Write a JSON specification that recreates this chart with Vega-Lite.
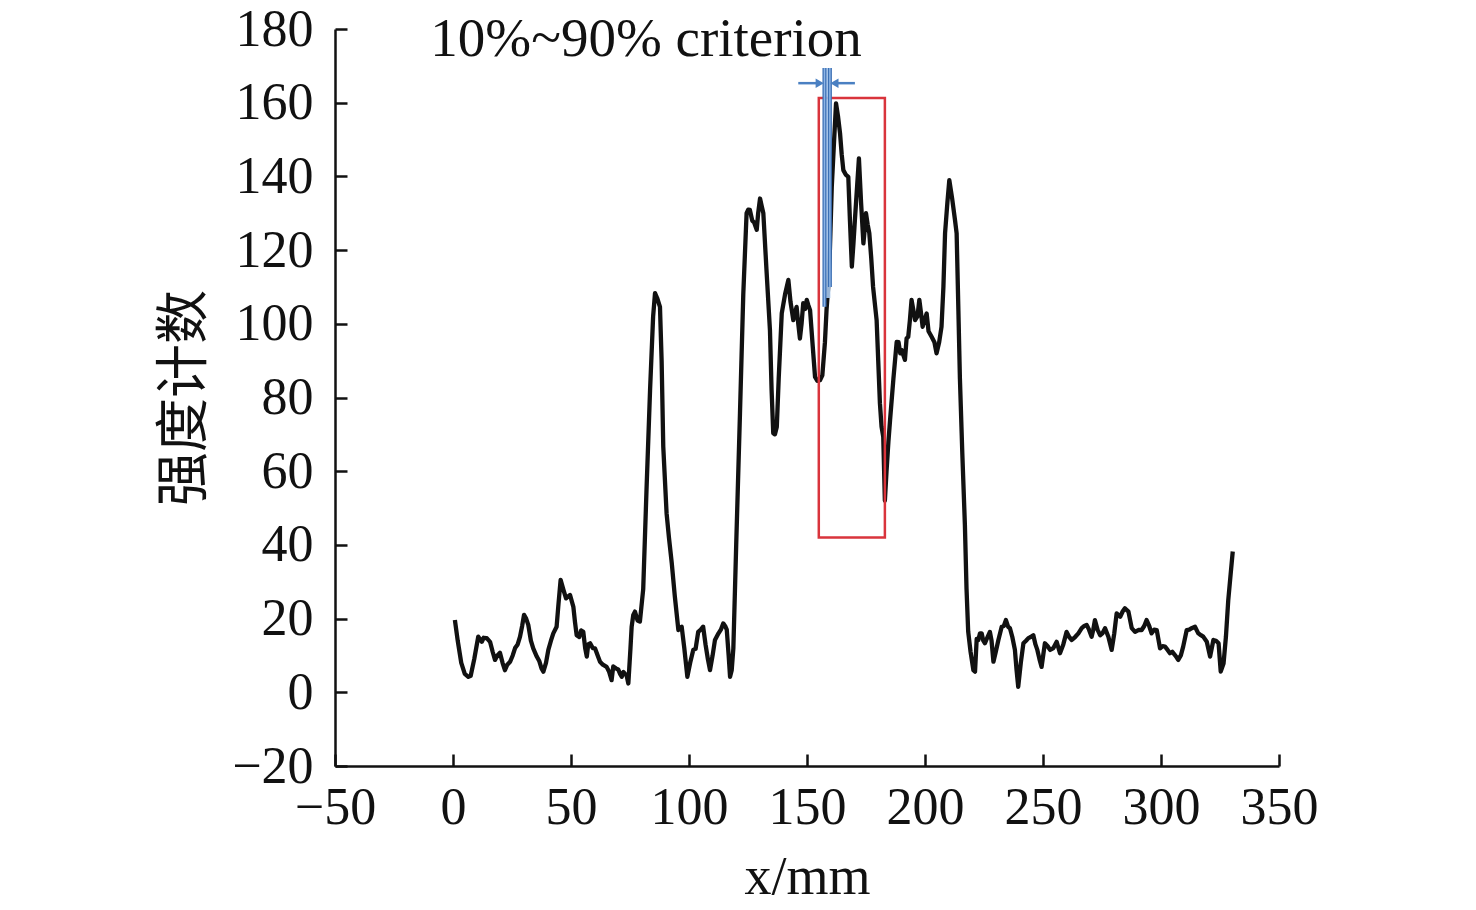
{
  "$schema": "https://vega.github.io/schema/vega-lite/v6.json",
  "width": 944,
  "height": 737,
  "autosize": "none",
  "padding": {"left": 335, "top": 29, "right": 197, "bottom": 144},
  "background": "white",
  "config": {
    "view": {"stroke": null},
    "axis": {
      "grid": false,
      "labelFlush": false,
      "labelOverlap": false,
      "domainColor": "#111",
      "domainWidth": 2.5,
      "tickColor": "#111",
      "tickWidth": 2.5,
      "tickSize": -12,
      "labelFont": "Liberation Serif",
      "labelFontSize": 52,
      "labelColor": "#111",
      "titleFont": "Liberation Serif",
      "titleFontSize": 54,
      "titleFontWeight": "normal",
      "titleColor": "#111"
    }
  },
  "datasets": {
    "curve": [
      {"x":0.8,"y":19.6},{"x":2,"y":14},{"x":3.5,"y":8},{"x":5,"y":5},{"x":6.5,"y":4.2},{"x":7.5,"y":4.5},{"x":9,"y":9},{"x":10.7,"y":15.1},{"x":12.2,"y":13.7},{"x":13,"y":14.8},{"x":14.3,"y":14.7},{"x":15.7,"y":13.7},{"x":16.8,"y":11},{"x":17.8,"y":8.8},{"x":18.8,"y":10},{"x":19.9,"y":10.7},{"x":21,"y":8},{"x":22,"y":6},{"x":23,"y":7.5},{"x":24.2,"y":8.3},{"x":25.3,"y":10},{"x":26.3,"y":12},{"x":27.4,"y":13},{"x":28.4,"y":15.1},{"x":29.3,"y":18},{"x":30.1,"y":21},{"x":31,"y":20},{"x":31.9,"y":18.3},{"x":33,"y":14},{"x":34,"y":11.9},{"x":35.5,"y":9.7},{"x":36.6,"y":8.4},{"x":37.5,"y":6.5},{"x":38.3,"y":5.6},{"x":39.4,"y":8},{"x":40.4,"y":11.5},{"x":41.5,"y":14},{"x":42.5,"y":16},{"x":43.9,"y":17.8},{"x":44.7,"y":24},{"x":45.6,"y":30.5},{"x":46.8,"y":27.8},{"x":47.9,"y":25.5},{"x":48.8,"y":26},{"x":49.6,"y":26.4},{"x":51,"y":23.2},{"x":51.7,"y":19},{"x":52.4,"y":15.5},{"x":53.5,"y":15},{"x":54.3,"y":16.8},{"x":55.2,"y":16.4},{"x":56,"y":12},{"x":56.7,"y":9.7},{"x":57.3,"y":13},{"x":58.1,"y":13.3},{"x":59.2,"y":12},{"x":60.2,"y":11.9},{"x":61.3,"y":10},{"x":62.3,"y":8.3},{"x":63.5,"y":7.5},{"x":65.1,"y":6.9},{"x":66.2,"y":5.5},{"x":67.2,"y":3.3},{"x":67.9,"y":7},{"x":69,"y":6.5},{"x":70,"y":6.2},{"x":70.8,"y":5},{"x":71.5,"y":4.2},{"x":72.2,"y":5.5},{"x":72.9,"y":5},{"x":73.6,"y":4.5},{"x":74.3,"y":2.4},{"x":75.2,"y":12},{"x":75.7,"y":17.8},{"x":76.4,"y":21},{"x":77.1,"y":21.9},{"x":78.2,"y":19.5},{"x":79.2,"y":19.2},{"x":80.6,"y":28},{"x":82,"y":55},{"x":83.5,"y":82},{"x":84.8,"y":102},{"x":85.6,"y":108.3},{"x":86.5,"y":107},{"x":87.7,"y":104.6},{"x":88.4,"y":90},{"x":89.1,"y":66.6},{"x":90.5,"y":48.6},{"x":91.5,"y":42},{"x":92.7,"y":35},{"x":94,"y":26},{"x":95.5,"y":16.9},{"x":96.2,"y":17.5},{"x":96.9,"y":17.8},{"x":98,"y":12},{"x":99.3,"y":4.2},{"x":100.5,"y":8},{"x":101.8,"y":11.5},{"x":102.8,"y":11.8},{"x":103.9,"y":16.4},{"x":105,"y":17},{"x":106,"y":17.8},{"x":107,"y":13},{"x":108,"y":9},{"x":108.9,"y":6},{"x":110,"y":10},{"x":111,"y":14.2},{"x":112.5,"y":16},{"x":113.5,"y":17},{"x":114.5,"y":18.7},{"x":115.3,"y":18},{"x":116,"y":17},{"x":116.8,"y":10},{"x":117.4,"y":4.2},{"x":118.1,"y":6},{"x":118.8,"y":12},{"x":120,"y":40},{"x":121.6,"y":75.7},{"x":123,"y":108},{"x":124.4,"y":130},{"x":125.1,"y":131},{"x":125.8,"y":130.9},{"x":126.8,"y":128},{"x":127.6,"y":127.5},{"x":128.7,"y":125.5},{"x":129.3,"y":130},{"x":130.1,"y":134},{"x":130.8,"y":132},{"x":131.5,"y":130},{"x":132.8,"y":115},{"x":134.3,"y":98.3},{"x":135,"y":82},{"x":135.7,"y":70.3},{"x":136.4,"y":70},{"x":137.2,"y":72},{"x":138,"y":85},{"x":139.3,"y":102.8},{"x":140.7,"y":108},{"x":142.1,"y":111.9},{"x":143,"y":106},{"x":144.2,"y":101},{"x":144.9,"y":103},{"x":145.6,"y":104.6},{"x":146.3,"y":100},{"x":147,"y":96},{"x":147.7,"y":100},{"x":148.4,"y":105.6},{"x":149.2,"y":104},{"x":149.9,"y":106.5},{"x":150.6,"y":105},{"x":151.3,"y":103.7},{"x":152.3,"y":95},{"x":153.4,"y":85.6},{"x":154.4,"y":84.5},{"x":155.5,"y":84.7},{"x":156.5,"y":86},{"x":157.6,"y":95},{"x":158.3,"y":104},{"x":159,"y":110},{"x":159.7,"y":120},{"x":160.5,"y":137.2},{"x":161.5,"y":150},{"x":162.3,"y":159.8},{"x":163.2,"y":156},{"x":164,"y":151.7},{"x":164.7,"y":146},{"x":165.4,"y":141.7},{"x":166.4,"y":140.5},{"x":167.5,"y":139.9},{"x":168.2,"y":128},{"x":169,"y":115.5},{"x":169.7,"y":122},{"x":170.3,"y":128.2},{"x":171.2,"y":137},{"x":172,"y":144.9},{"x":172.9,"y":133},{"x":173.9,"y":121.8},{"x":174.5,"y":126},{"x":175,"y":130},{"x":175.7,"y":127},{"x":176.4,"y":124.6},{"x":177.2,"y":118},{"x":178,"y":110},{"x":179.5,"y":101},{"x":180.9,"y":78.4},{"x":181.6,"y":72},{"x":182.3,"y":69.4},{"x":183,"y":52},{"x":183.7,"y":60},{"x":184.5,"y":68},{"x":185.2,"y":73.9},{"x":186.6,"y":85},{"x":188,"y":95.1},{"x":188.8,"y":95},{"x":189.5,"y":92},{"x":190.1,"y":92.9},{"x":191.5,"y":90.2},{"x":192.2,"y":96},{"x":192.9,"y":96.5},{"x":193.6,"y":101},{"x":194.3,"y":106.5},{"x":195,"y":104},{"x":195.8,"y":101},{"x":196.8,"y":102},{"x":197.6,"y":106.5},{"x":198.3,"y":103},{"x":199,"y":99.2},{"x":199.8,"y":101},{"x":200.7,"y":102.8},{"x":201.5,"y":98},{"x":202.8,"y":96.5},{"x":204,"y":95},{"x":204.9,"y":92},{"x":206,"y":95},{"x":207,"y":99.2},{"x":207.8,"y":110},{"x":208.5,"y":124.6},{"x":209.5,"y":133},{"x":210.3,"y":139},{"x":211.5,"y":134},{"x":212.7,"y":128.2},{"x":213.4,"y":124.6},{"x":214.1,"y":105},{"x":214.8,"y":85},{"x":215.8,"y":65},{"x":216.9,"y":45.5},{"x":217.6,"y":28},{"x":218.3,"y":16.5},{"x":219.3,"y":11},{"x":220.5,"y":6},{"x":221.2,"y":5.6},{"x":221.9,"y":14.5},{"x":222.6,"y":14.2},{"x":223.3,"y":16},{"x":224,"y":16},{"x":224.7,"y":14},{"x":225.4,"y":13.3},{"x":226.5,"y":15},{"x":227.5,"y":16.4},{"x":228.2,"y":14},{"x":229,"y":8.3},{"x":230,"y":11},{"x":231.1,"y":14.2},{"x":232.5,"y":17.8},{"x":233.4,"y":18},{"x":234.3,"y":19.6},{"x":235.2,"y":17.8},{"x":236,"y":17.4},{"x":237,"y":15},{"x":238.1,"y":11.5},{"x":238.8,"y":6},{"x":239.5,"y":1.5},{"x":240.6,"y":8},{"x":241.7,"y":13.3},{"x":242.8,"y":14},{"x":243.8,"y":14.7},{"x":244.8,"y":15},{"x":245.9,"y":15.5},{"x":246.8,"y":13},{"x":247.6,"y":11.5},{"x":248.5,"y":9},{"x":249.4,"y":6.9},{"x":250.8,"y":13.3},{"x":252,"y":12.5},{"x":253,"y":11.5},{"x":254.4,"y":12},{"x":255.8,"y":13.7},{"x":257.2,"y":10.6},{"x":258.6,"y":13},{"x":260,"y":16.4},{"x":261.1,"y":15},{"x":262.2,"y":14.2},{"x":263.6,"y":15},{"x":265,"y":16},{"x":266.4,"y":17.4},{"x":267.5,"y":18},{"x":268.5,"y":18.3},{"x":269.5,"y":17},{"x":270.6,"y":15.1},{"x":271.3,"y":17},{"x":272,"y":19.6},{"x":273.1,"y":17},{"x":274.2,"y":15.5},{"x":275.2,"y":16},{"x":276.3,"y":17.4},{"x":277.7,"y":15.1},{"x":279.1,"y":11.5},{"x":280.2,"y":16},{"x":281.2,"y":21.4},{"x":282.7,"y":20.5},{"x":283.8,"y":22},{"x":284.7,"y":22.8},{"x":286.2,"y":21.9},{"x":287.6,"y":17.4},{"x":289,"y":16.4},{"x":290.4,"y":16.9},{"x":291.8,"y":16.9},{"x":292.9,"y":18},{"x":293.9,"y":19.6},{"x":295,"y":18},{"x":296,"y":16},{"x":297.1,"y":17},{"x":298.2,"y":16.9},{"x":299.6,"y":11.9},{"x":300.7,"y":12.5},{"x":301.7,"y":12.4},{"x":302.8,"y":11.5},{"x":303.8,"y":10.6},{"x":304.8,"y":11},{"x":305.9,"y":10.1},{"x":306.6,"y":9.5},{"x":307.3,"y":8.8},{"x":308.4,"y":10},{"x":309.4,"y":12.4},{"x":310.9,"y":16.9},{"x":312,"y":17},{"x":313,"y":17.4},{"x":314.4,"y":17.8},{"x":315.8,"y":16},{"x":316.9,"y":15.5},{"x":317.9,"y":15.1},{"x":319.4,"y":13.7},{"x":320.8,"y":9.7},{"x":322.2,"y":14.2},{"x":323.3,"y":14},{"x":324.4,"y":13.3},{"x":325.3,"y":5.6},{"x":326.5,"y":7.8},{"x":327.5,"y":15},{"x":328.5,"y":25},{"x":329.5,"y":32},{"x":330.4,"y":38.2}
    ],
    "box": [{"x1": 155, "x2": 183, "y1": 42, "y2": 161.3}],
    "band": [{"x1": 157.2, "x2": 159.9, "y1": 107, "y2": 169.4}],
    "bandlines": [{"x": 157.4, "y1": 104.6, "y2": 169.4}, {"x": 159.7, "y1": 110, "y2": 169.4}],
    "arrows": [{"xa": 146.3, "xb": 155.0, "y": 165.3}, {"xa": 170.3, "xb": 162.0, "y": 165.3}],
    "heads": [{"x": 155.4, "y": 165.3, "shape": "triangle-right"}, {"x": 161.6, "y": 165.3, "shape": "triangle-left"}],
    "label": [{"x": 81.8, "y": 177.3, "text": "10%~90% criterion"}]
  },
  "layer": [
    {
      "data": {"name": "curve"},
      "mark": {"type": "line", "color": "#111", "strokeWidth": 4.3, "strokeJoin": "round"},
      "encoding": {
        "x": {"field": "x", "type": "quantitative", "scale": {"domain": [-50, 350], "nice": false, "zero": false},
              "axis": {"values": [-50, 0, 50, 100, 150, 200, 250, 300, 350], "title": "x/mm", "labelPadding": 28, "titleY": 127, "titleBaseline": "alphabetic"}},
        "y": {"field": "y", "type": "quantitative", "scale": {"domain": [-20, 180], "nice": false, "zero": false},
              "axis": {"values": [-20, 0, 20, 40, 60, 80, 100, 120, 140, 160, 180], "title": "强度计数", "titleFont": "Noto Sans CJK SC", "titleFontSize": 54, "labelPadding": 34, "titleX": -150, "titleBaseline": "middle"}}
      }
    },
    {
      "data": {"name": "box"},
      "mark": {"type": "rect", "fill": null, "fillOpacity": 0, "stroke": "#d9343c", "strokeWidth": 2.5},
      "encoding": {
        "x": {"field": "x1", "type": "quantitative"},
        "x2": {"field": "x2"},
        "y": {"field": "y1", "type": "quantitative"},
        "y2": {"field": "y2"}
      }
    },
    {
      "data": {"name": "band"},
      "mark": {"type": "rect", "fill": "#a9c8ec", "opacity": 0.9},
      "encoding": {
        "x": {"field": "x1", "type": "quantitative"},
        "x2": {"field": "x2"},
        "y": {"field": "y1", "type": "quantitative"},
        "y2": {"field": "y2"}
      }
    },
    {
      "data": {"name": "bandlines"},
      "mark": {"type": "rule", "color": "#3b6fb3", "strokeWidth": 4},
      "encoding": {
        "x": {"field": "x", "type": "quantitative"},
        "y": {"field": "y1", "type": "quantitative"},
        "y2": {"field": "y2"}
      }
    },
    {
      "data": {"name": "bandlines"},
      "mark": {"type": "rule", "color": "#8db5e6", "strokeWidth": 1.5},
      "encoding": {
        "x": {"field": "x", "type": "quantitative"},
        "y": {"field": "y1", "type": "quantitative"},
        "y2": {"field": "y2"}
      }
    },
    {
      "data": {"name": "arrows"},
      "mark": {"type": "rule", "color": "#4a80c2", "strokeWidth": 2.5},
      "encoding": {
        "x": {"field": "xa", "type": "quantitative"},
        "x2": {"field": "xb"},
        "y": {"field": "y", "type": "quantitative"}
      }
    },
    {
      "data": {"name": "heads"},
      "mark": {"type": "point", "filled": true, "color": "#4a80c2", "size": 90, "opacity": 1},
      "encoding": {
        "x": {"field": "x", "type": "quantitative"},
        "y": {"field": "y", "type": "quantitative"},
        "shape": {"field": "shape", "type": "nominal", "scale": null, "legend": null}
      }
    },
    {
      "data": {"name": "label"},
      "mark": {"type": "text", "font": "Liberation Serif", "fontSize": 55, "color": "#111", "align": "center", "baseline": "middle"},
      "encoding": {
        "x": {"field": "x", "type": "quantitative"},
        "y": {"field": "y", "type": "quantitative"},
        "text": {"field": "text"}
      }
    }
  ]
}
